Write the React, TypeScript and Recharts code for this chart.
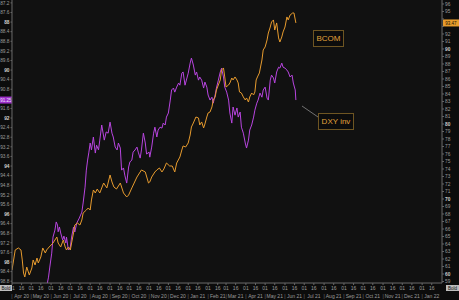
import React from 'react';
import { LineChart, Line, XAxis, YAxis, CartesianGrid, ReferenceLine } from 'recharts';

// Day offsets are counted from this date
const START_DATE = '2020-04-01';
const END_DATE = '2022-02-01';

const monthLabels = [
  'Apr 20', 'May 20', 'Jun 20', 'Jul 20', 'Aug 20', 'Sep 20', 'Oct 20', 'Nov 20', 'Dec 20',
  'Jan 21', 'Feb 21', 'Mar 21', 'Apr 21', 'May 21', 'Jun 21', 'Jul 21', 'Aug 21', 'Sep 21',
  'Oct 21', 'Nov 21', 'Dec 21', 'Jan 22',
];
const dayTickDays = [1, 16];

const dxyTicks = [
  87.2, 87.6, 88, 88.4, 88.8, 89.2, 89.6, 90, 90.4, 90.8, 91.2, 91.6, 92, 92.4, 92.8,
  93.2, 93.6, 94, 94.4, 94.8, 95.2, 95.6, 96, 96.4, 96.8, 97.2, 97.6, 98, 98.4, 98.8,
];
const bcomTicks = [
  59, 60, 61, 62, 63, 64, 65, 66, 67, 68, 69, 70, 71, 72, 73, 74, 75, 76, 77, 78,
  79, 80, 81, 82, 83, 84, 85, 86, 87, 88, 89, 90, 91, 92, 93, 94, 95, 96,
];

// BCOM (right axis)
const bcomDays = [
  0, 5, 10, 14, 16, 18, 20, 23, 27, 31,
  33, 36, 39, 41, 45, 48, 52, 54, 58, 64,
  70, 72, 76, 80, 83, 85, 88, 91, 93, 96,
  98, 102, 106, 109, 111, 116, 119, 122, 124, 127,
  130, 133, 137, 143, 148, 153, 156, 159, 163, 169,
  174, 179, 182, 187, 195, 202, 208, 213, 215, 218,
  223, 226, 230, 234, 237, 241, 246, 250, 254, 257,
  262, 265, 267, 271, 275, 278, 280, 283, 287, 291,
  293, 296, 299, 301, 304, 306, 309, 312, 314, 317,
  319, 322, 325, 327, 330, 332, 334, 338, 340, 343,
  345, 348, 351, 353, 355, 358, 361, 364, 366, 369,
  371, 374, 377, 379, 381, 383, 386, 390, 392, 395,
  398, 400, 403, 405, 408, 410, 413, 416, 418, 421,
  423, 426, 429, 431, 434, 438, 440, 443,
];
const bcomValues = [
  60.53, 63.2, 63.47, 63.2, 61.87, 60.13, 59.6, 60.93, 59.87, 60.8,
  61.87, 61.2, 62.13, 61.47, 62.27, 63.47, 62.8, 63.2, 63.6, 64.13,
  64.93, 64.13, 63.6, 64.53, 63.6, 63.2, 63.6, 63.2, 64.13, 65.47,
  66.53, 66.8, 66.53, 67.2, 68.13, 68.53, 68.8, 68.53, 69.87, 71.2,
  70.8, 71.33, 70.8, 72.13, 71.47, 73.2, 72.27, 71.6, 71.33, 72.13,
  70.8, 70.27, 70.53, 71.47, 72.93, 73.87, 73.6, 72.13, 72.27, 72.93,
  73.6, 73.87, 74.13, 73.6, 74.0, 74.8, 74.4, 74.4, 73.6, 74.8,
  75.6, 76.53, 77.07, 76.93, 77.47, 78.53, 79.6, 80.13, 80.93, 80.8,
  79.87, 80.27, 79.47, 80.0, 80.93, 81.47, 81.6, 82.27, 83.2, 83.6,
  84.53, 85.2, 85.87, 87.2, 87.47, 86.27, 84.93, 85.2, 85.47, 86.13,
  85.87, 86.27, 85.87, 85.47, 84.27, 84.13, 83.6, 83.2, 83.47, 82.93,
  83.6, 84.13, 83.87, 84.27, 85.87, 86.27, 86.8, 88.53, 89.87, 90.27,
  91.2, 92.13, 92.93, 93.6, 93.87, 92.53, 93.47, 91.47, 90.93, 91.6,
  92.27, 92.93, 94.27, 93.87, 94.53, 94.8, 94.8, 93.47,
];

// DXY (left axis, inverted)
const dxyDays = [
  0, 6, 12, 18, 24, 31, 37, 44, 50, 54,
  57, 59, 62, 64, 67, 69, 71, 72, 74, 76,
  79, 81, 84, 85, 88, 91, 93, 96, 98, 101,
  105, 109, 111, 114, 116, 118, 120, 122, 124, 127,
  130, 132, 135, 137, 140, 144, 147, 150, 153, 156,
  158, 161, 164, 166, 169, 171, 174, 176, 179, 182,
  184, 187, 189, 192, 195, 197, 200, 202, 205, 208,
  210, 214, 215, 218, 221, 223, 226, 228, 231, 234,
  236, 239, 241, 244, 247, 249, 252, 254, 257, 260,
  262, 265, 267, 270, 273, 275, 278, 280, 283, 286,
  288, 291, 293, 296, 299, 301, 304, 306, 309, 312,
  314, 317, 319, 322, 325, 327, 330, 332, 335, 338,
  340, 343, 345, 348, 351, 353, 356, 358, 361, 364,
  366, 369, 371, 374, 377, 379, 382, 384, 387, 390,
  392, 395, 398, 400, 403, 405, 408, 410, 413, 416,
  418, 421, 423, 426, 429, 431, 434, 437, 439, 442,
  443,
];
const dxyValues = [
  99.5, 99.3, 99.0, 99.9, 99.6, 99.0, 99.6, 99.9, 99.4, 99.04,
  98.63, 98.21, 97.63, 96.96, 96.67, 96.33, 96.46, 96.74, 96.54, 96.79,
  97.08, 96.92, 97.21, 96.96, 97.5, 97.38, 96.96, 96.54, 96.75, 96.38,
  96.17, 95.92, 95.54, 94.88, 94.17, 93.75, 93.42, 93.04, 93.33, 92.79,
  93.46, 93.13, 93.33, 92.92, 92.29, 92.92, 92.58, 92.63, 92.17, 92.63,
  92.79, 93.21, 93.33, 93.04, 93.25, 94.17, 94.08, 94.38, 94.71, 94.04,
  93.83, 93.75, 93.42, 93.33, 93.21, 93.42, 93.67, 93.33, 92.63, 93.04,
  93.5, 93.42, 93.63, 93.21, 92.63, 92.38, 92.79, 92.5, 92.38, 92.42,
  92.21, 92.29, 91.96, 91.79, 91.25, 90.83, 90.75, 90.92, 90.71, 90.54,
  90.63, 90.13, 90.08, 90.63, 90.33, 90.13, 89.71, 89.5, 89.79, 90.21,
  90.08, 90.42, 90.29, 90.42, 90.75, 90.5, 90.71, 91.04, 91.25, 91.13,
  91.38, 91.04, 90.75, 90.42, 90.08, 89.92, 90.29, 90.71, 90.92, 91.25,
  91.79, 92.21, 91.54, 91.88, 91.58, 91.96, 91.75, 92.38, 92.63, 93.04,
  93.25, 92.92, 92.5, 92.29, 91.96, 91.67, 91.38, 91.25, 90.96, 91.13,
  90.83, 90.71, 91.17, 91.25, 90.42, 90.21, 90.33, 90.54, 90.08, 89.88,
  89.92, 89.71, 89.88, 89.92, 90.0, 90.08, 90.29, 90.21, 90.54, 90.83,
  91.25,
];

const DAY_MS = 86400000;
const startMs = Date.parse(START_DATE + 'T00:00:00Z');
const endDay = Math.round((Date.parse(END_DATE + 'T00:00:00Z') - startMs) / DAY_MS);

const bcomData = bcomDays.map((t, i) => ({ t, v: bcomValues[i] }));
const dxyData = dxyDays.map((t, i) => ({ t, v: dxyValues[i] }));

const lastDxy = dxyValues[dxyValues.length - 1];
const lastBcom = bcomValues[bcomValues.length - 1];

const xTicks: number[] = [];
monthLabels.forEach((_, m) => {
  dayTickDays.forEach((d) => {
    const ms = Date.UTC(2020, 3 + m, d);
    xTicks.push(Math.round((ms - startMs) / DAY_MS));
  });
});

const AXIS_TEXT = '#9c9c9c';
const FONT = 'Liberation Sans, Arial, sans-serif';
const PURPLE = '#b845e0';
const ORANGE = '#e79b2e';

const XTick = (props: any) => {
  const { x, y, index } = props;
  const isFirst = index % 2 === 0;
  const m = Math.floor(index / 2);
  const dayText = String(dayTickDays[index % 2]).padStart(2, '0');
  return (
    <g fontFamily={FONT} fontSize={5} fill={AXIS_TEXT}>
      <text x={x} y={y + 5} textAnchor="middle">{dayText}</text>
      {isFirst ? (
        <text x={x} y={y + 12.5} textAnchor="middle" fill="#777">|</text>
      ) : (
        <text x={x} y={y + 12.5} textAnchor="middle">{monthLabels[m]}</text>
      )}
    </g>
  );
};

const LeftTick = (props: any) => {
  const { x, y, payload } = props;
  const v = payload.value;
  if (Math.abs(v - lastDxy) < 0.2) return <g />;
  const major = Math.abs(v - Math.round(v)) < 1e-6;
  return (
    <text x={x} y={y + 1.8} textAnchor="end" fontFamily={FONT} fontSize={4.8}
      fill={major ? '#d0d0d0' : AXIS_TEXT} fontWeight={major ? 'bold' : 'normal'}>
      {String(+v.toFixed(1))}
    </text>
  );
};

const RightTick = (props: any) => {
  const { x, y, payload } = props;
  const v = payload.value;
  if (Math.abs(v - lastBcom) < 0.6) return <g />;
  const major = v % 10 === 0;
  return (
    <text x={x} y={y + 1.8} textAnchor="start" fontFamily={FONT} fontSize={4.8}
      fill={major ? '#d0d0d0' : AXIS_TEXT} fontWeight={major ? 'bold' : 'normal'}>
      {String(v)}
    </text>
  );
};

const LeftTag = (props: any) => {
  const vb = props.viewBox || {};
  const y = vb.y;
  return (
    <g>
      <rect x={0} y={y - 3.5} width={12} height={7} fill="#9d2fc9" />
      <text x={6} y={y + 1.7} textAnchor="middle" fontFamily={FONT} fontSize={4.5} fill="#f0e0ff">
        {lastDxy.toFixed(2)}
      </text>
    </g>
  );
};

const RightTag = (props: any) => {
  const vb = props.viewBox || {};
  const y = vb.y;
  const x = vb.x + vb.width + 1;
  return (
    <g>
      <rect x={x} y={y - 3.5} width={16} height={7} fill="#e89c2c" />
      <text x={x + 8} y={y + 1.7} textAnchor="middle" fontFamily={FONT} fontSize={4.5} fill="#1a1000">
        {lastBcom.toFixed(2)}
      </text>
    </g>
  );
};

const boxStyle: React.CSSProperties = {
  position: 'absolute',
  border: '1px solid #6e5522',
  background: '#0c0c0c',
  color: '#e2a23c',
  fontFamily: FONT,
  fontSize: 8,
  display: 'flex',
  alignItems: 'center',
  justifyContent: 'center',
  boxSizing: 'border-box',
};

const cornerStyle: React.CSSProperties = {
  position: 'absolute',
  background: '#bdbdbd',
  color: '#111',
  fontFamily: FONT,
  fontSize: 4.5,
  display: 'flex',
  alignItems: 'center',
  justifyContent: 'center',
  boxSizing: 'border-box',
};

export default function App() {
  return (
    <div style={{ position: 'fixed', left: 0, top: 0, width: 459, height: 300, background: '#0c0c0c', overflow: 'hidden' }}>
      <LineChart width={459} height={300} margin={{ top: 0, right: 0, bottom: 0, left: 0 }}>
        <rect x={12} y={0} width={430} height={283} fill="#111111" />
        <CartesianGrid yAxisId="left" stroke="#232323" strokeWidth={0.8} />
        <XAxis
          type="number"
          dataKey="t"
          domain={[0, endDay]}
          ticks={xTicks}
          interval={0}
          height={17}
          tick={<XTick />}
          tickSize={2}
          tickMargin={0}
          stroke="#666"
          allowDataOverflow
        />
        <YAxis
          yAxisId="left"
          orientation="left"
          reversed
          domain={[87.08, 98.875]}
          ticks={dxyTicks}
          interval={0}
          width={12}
          tick={<LeftTick />}
          tickSize={1.5}
          tickMargin={1}
          stroke="#666"
          allowDataOverflow
        />
        <YAxis
          yAxisId="right"
          orientation="right"
          domain={[58.8, 96.53]}
          ticks={bcomTicks}
          interval={0}
          width={17}
          tick={<RightTick />}
          tickSize={2}
          tickMargin={1}
          stroke="#666"
          allowDataOverflow
        />
        <Line
          yAxisId="left"
          data={dxyData}
          dataKey="v"
          type="linear"
          stroke={PURPLE}
          strokeWidth={1}
          dot={false}
          isAnimationActive={false}
        />
        <Line
          yAxisId="right"
          data={bcomData}
          dataKey="v"
          type="linear"
          stroke={ORANGE}
          strokeWidth={1}
          dot={false}
          isAnimationActive={false}
        />
        <ReferenceLine yAxisId="left" y={lastDxy} strokeOpacity={0} label={<LeftTag />} />
        <ReferenceLine yAxisId="right" y={lastBcom} strokeOpacity={0} label={<RightTag />} />
      </LineChart>
      <svg style={{ position: 'absolute', left: 0, top: 0 }} width={459} height={300}>
        <line x1={302} y1={106} x2={318} y2={117} stroke="#8a8a8a" strokeWidth={0.8} />
      </svg>
      <div style={{ ...boxStyle, left: 313, top: 30, width: 31, height: 17 }}>BCOM</div>
      <div style={{ ...boxStyle, left: 318, top: 113, width: 36, height: 17 }}>DXY inv</div>
      <div style={{ ...cornerStyle, left: 0, top: 285, width: 12, height: 6 }}>Bold</div>
      <div style={{ ...cornerStyle, left: 446, top: 285, width: 13, height: 6 }}>Bold</div>
    </div>
  );
}
